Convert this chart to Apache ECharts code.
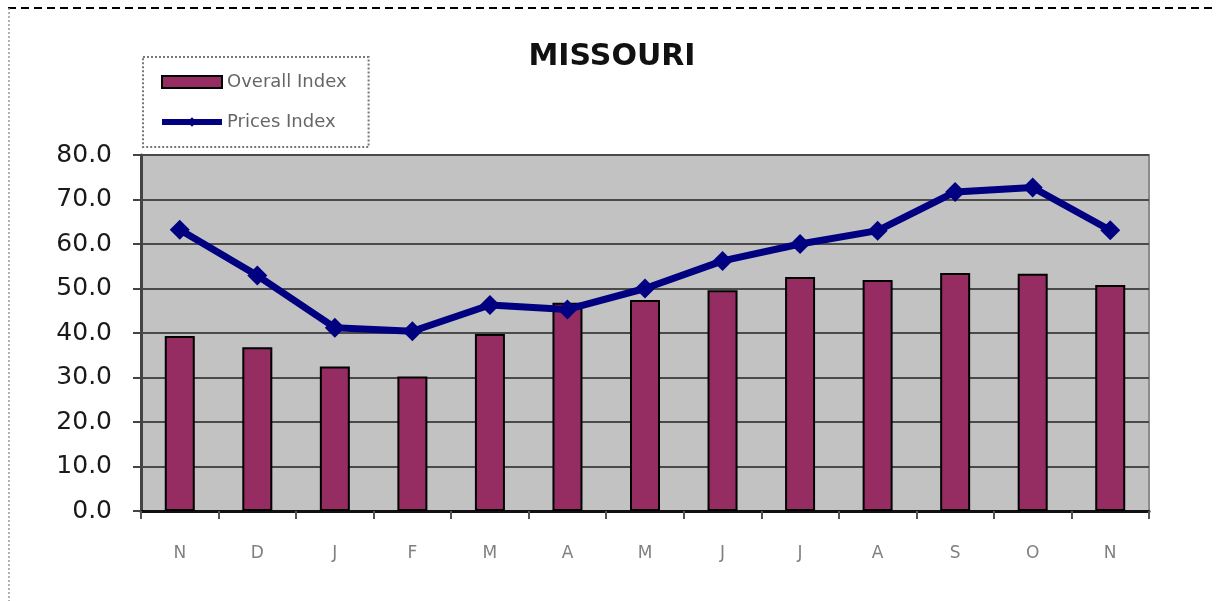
<!DOCTYPE html>
<html>
<head>
<meta charset="utf-8">
<script src="https://cdn.jsdelivr.net/npm/echarts@6/dist/echarts.min.js"></script>
<style>
html,body{margin:0;padding:0;background:#fff;}
#c{width:1216px;height:601px;}
</style>
</head>
<body>
<div id="c"></div>
<script>
const categories = ['N','D','J','F','M','A','M','J','J','A','S','O','N'];
const overallIndex = [39.3, 36.8, 32.5, 30.2, 39.8, 46.8, 47.4, 49.6, 52.6, 51.9, 53.5, 53.3, 50.8];
const pricesIndex = [63.2, 52.9, 41.2, 40.4, 46.3, 45.3, 50.0, 56.2, 60.0, 63.0, 71.7, 72.7, 63.1];
const seriesNames = ['Overall Index', 'Prices Index'];
const titleText = 'MISSOURI';

const chart = echarts.init(document.getElementById('c'), null, {renderer:'canvas'});
const FONT = 'DejaVu Sans';
chart.setOption({
  backgroundColor: '#ffffff',
  animation: false,
  title: {
    text: titleText,
    left: 607, top: 37, textAlign: 'center',
    textStyle: {fontFamily: FONT, fontWeight: 'bold', fontSize: 30, color: '#111'}
  },
  legend: {
    left: 143, top: 57,
    orient: 'vertical',
    padding: [15, 22, 15, 16],
    itemGap: 20,
    itemWidth: 60, itemHeight: 12,
    borderColor: '#777', borderWidth: 2, borderType: 'dotted',
    textStyle: {fontFamily: FONT, fontSize: 18, color: '#666', lineHeight: 20},
    lineStyle: {width: 6},
    data: [
      {name: seriesNames[0], icon: 'rect'},
      {name: seriesNames[1]}
    ]
  },
  grid: {
    left: 141, right: 67, top: 155, bottom: 90,
    show: true, backgroundColor: '#c2c2c2',
    borderColor: '#8c8c8c', borderWidth: 2
  },
  xAxis: {
    type: 'category',
    data: categories,
    boundaryGap: true,
    axisLine: {lineStyle: {color: '#111', width: 3}},
    axisTick: {show: true, alignWithLabel: false, length: 8, lineStyle: {color: '#555', width: 2}},
    axisLabel: {fontFamily: FONT, fontSize: 17, color: '#808080', margin: 34}
  },
  yAxis: {
    type: 'value',
    min: 0, max: 80, interval: 10,
    axisLine: {show: true, lineStyle: {color: '#444', width: 3}},
    axisTick: {show: true, length: 8, lineStyle: {color: '#444', width: 2}},
    axisLabel: {fontFamily: FONT, fontSize: 25, color: '#1a1a1a', margin: 29,
      formatter: v => v.toFixed(1)},
    splitLine: {show: true, lineStyle: {color: '#4a4a4a', width: 2}}
  },
  series: [
    {
      name: seriesNames[0], type: 'bar', data: overallIndex,
      barWidth: 30,
      itemStyle: {color: '#952d62', borderColor: '#000', borderWidth: 2}
    },
    {
      name: seriesNames[1], type: 'line', data: pricesIndex,
      symbol: 'diamond', symbolSize: 20,
      lineStyle: {color: '#000080', width: 7},
      itemStyle: {color: '#000080'},
      z: 5
    }
  ],
  graphic: [
    {type: 'line', shape: {x1: 8, y1: 8, x2: 1216, y2: 8},
     style: {stroke: '#000', lineWidth: 2, lineDash: [8, 5]}},
    {type: 'line', shape: {x1: 9, y1: 8, x2: 9, y2: 601},
     style: {stroke: '#999', lineWidth: 1.5, lineDash: [2, 2]}}
  ]
});
</script>
</body>
</html>
